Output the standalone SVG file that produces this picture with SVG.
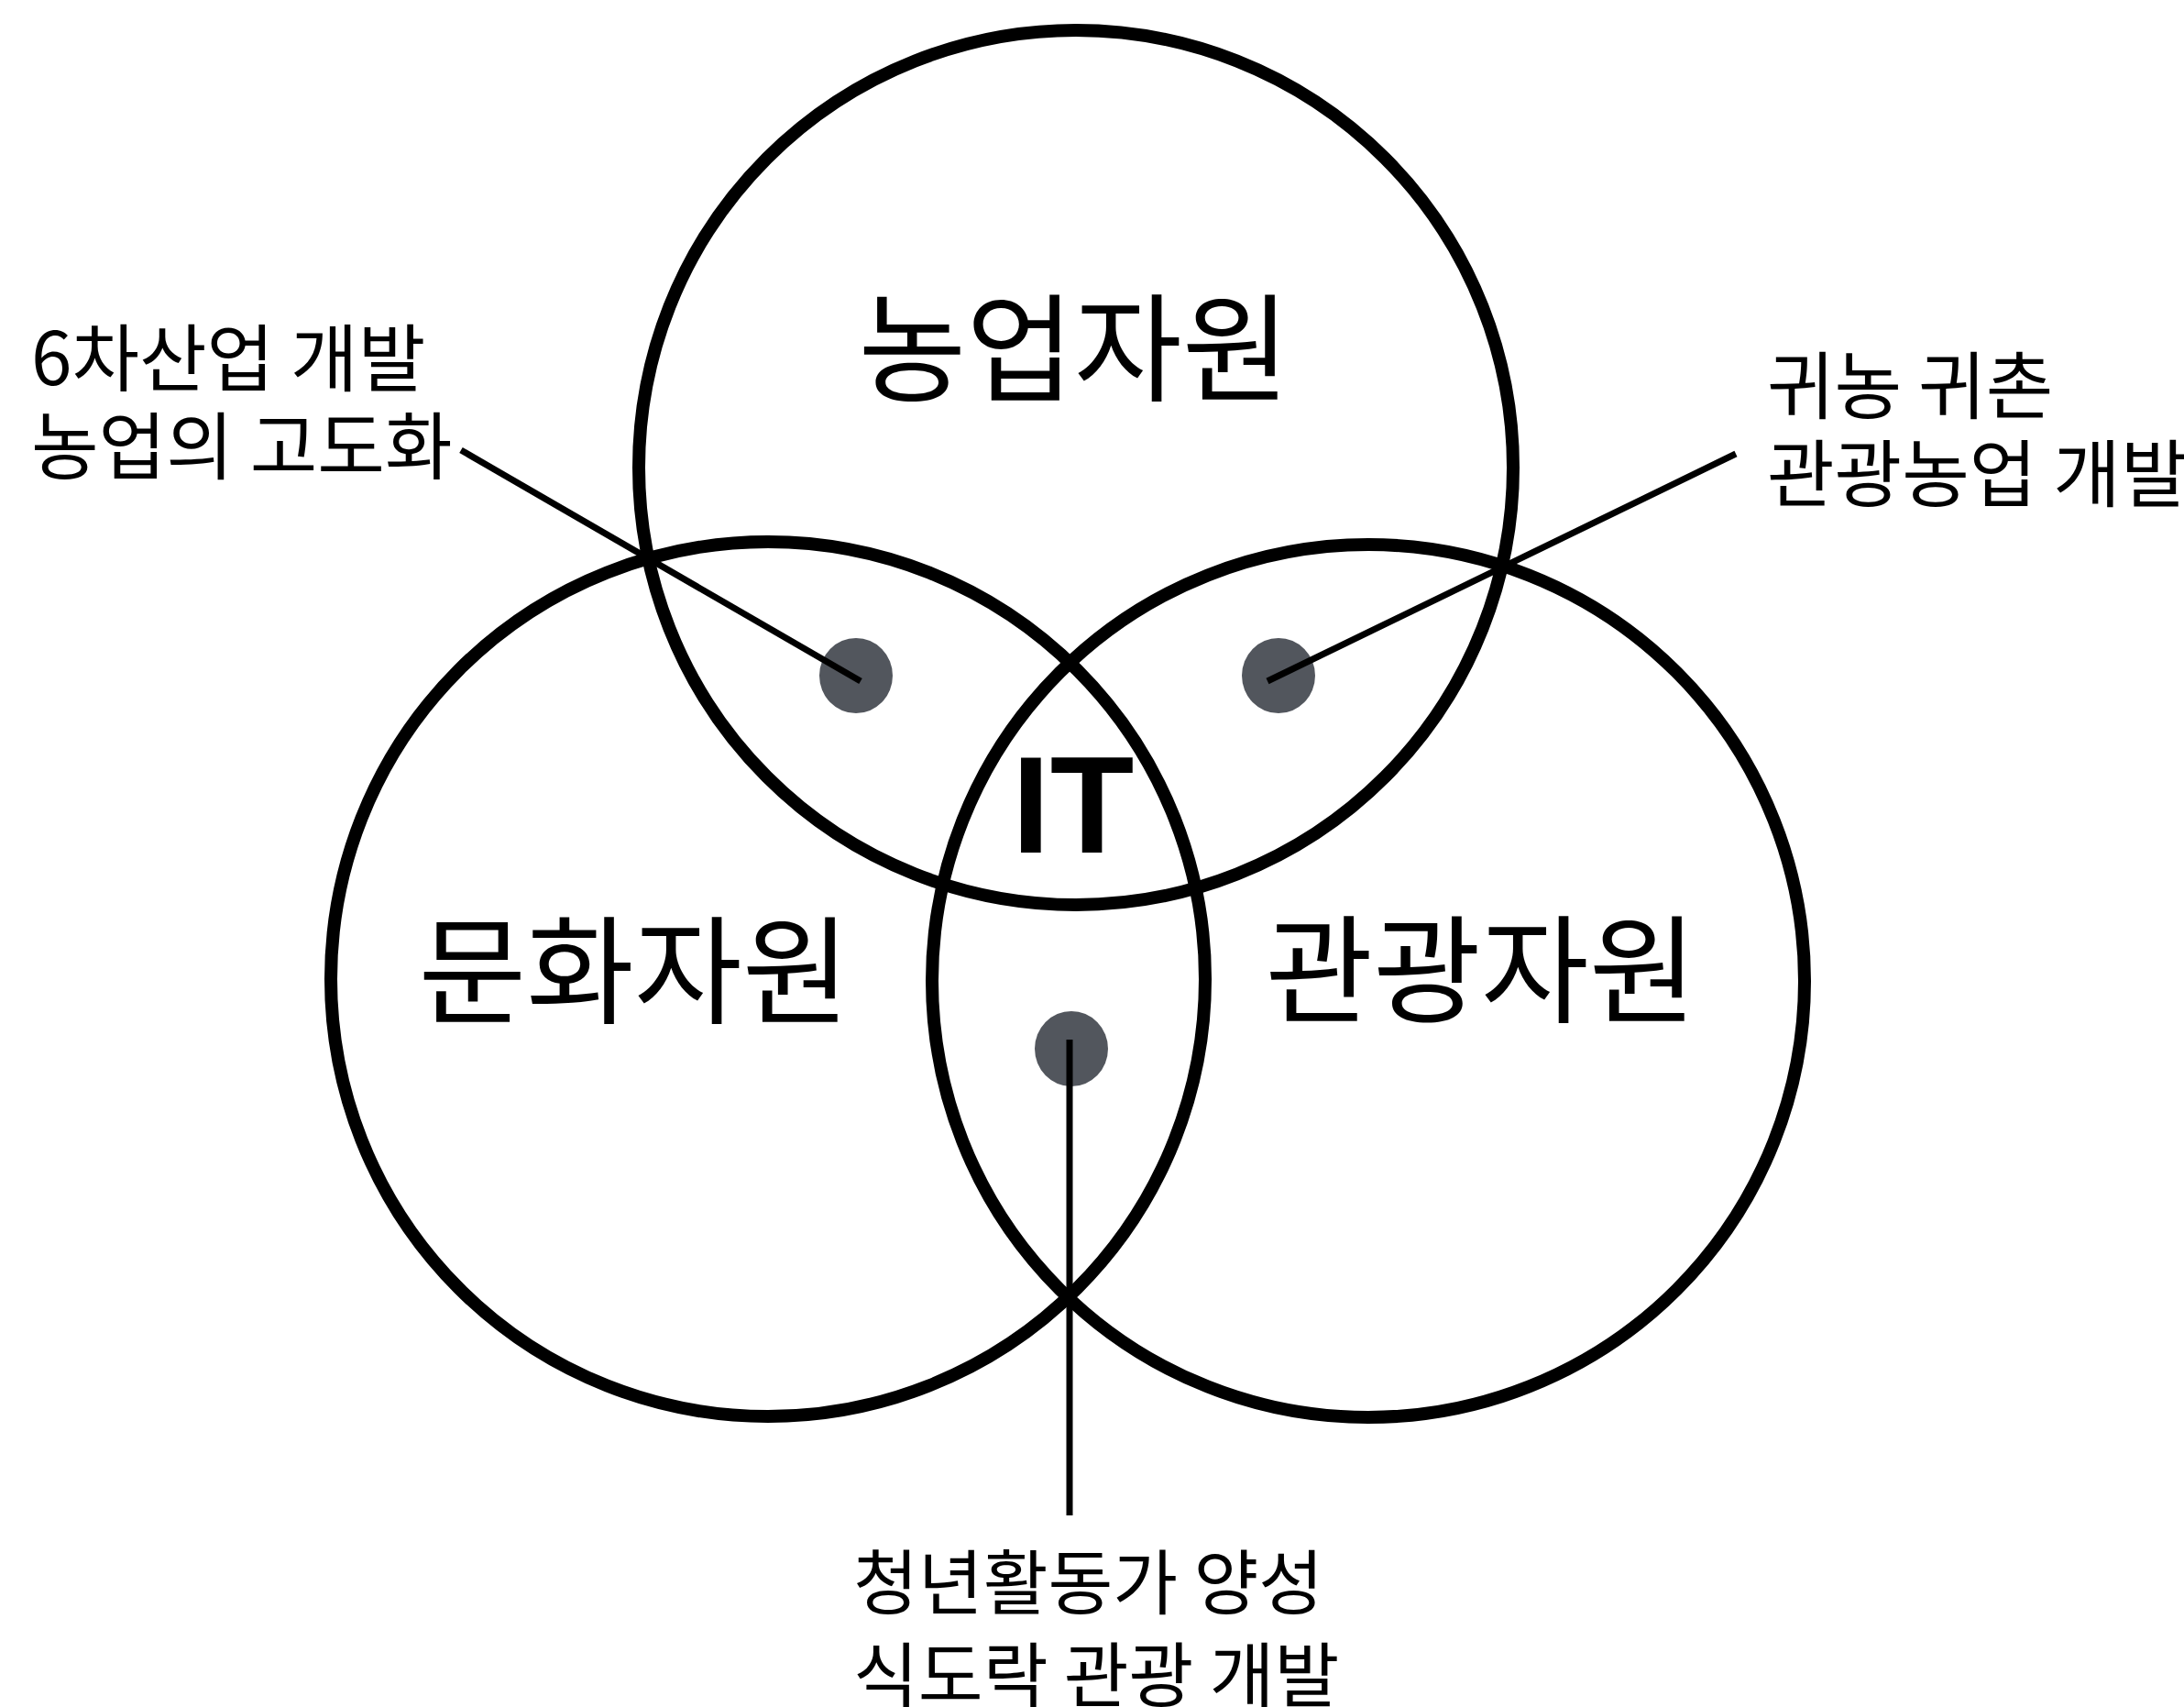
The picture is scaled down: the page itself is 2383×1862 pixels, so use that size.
<svg xmlns="http://www.w3.org/2000/svg" width="2383" height="1862" viewBox="0 0 2383 1862">
<style>
.ring{fill:none;stroke:#000;stroke-width:14}
.dot{fill:#52565d}
.lead{stroke:#000;stroke-width:7;fill:none;stroke-linecap:butt}
.big{font-family:"Noto Sans CJK KR","Noto Sans",sans-serif;font-size:128px;fill:#000}
.small{font-family:"Noto Sans CJK KR","Noto Sans",sans-serif;font-size:80px;fill:#000}
.small-b{font-family:"Noto Sans CJK KR","Noto Sans",sans-serif;font-size:77px;fill:#000}
.it{font-family:"Liberation Sans",Arial,sans-serif;font-weight:700;font-size:150px;fill:#000}
</style>
<rect width="2383" height="1862" fill="#fff"/>
<g id="node-agri">
<circle class="ring" cx="1174" cy="510" r="477"/>
<text class="big" x="1172" y="428" text-anchor="middle">농업자원</text>
</g>
<g id="node-culture">
<circle class="ring" cx="838" cy="1068" r="477"/>
<text class="big" x="692" y="1107" text-anchor="middle">문화자원</text>
</g>
<g id="node-tourism">
<circle class="ring" cx="1493" cy="1070" r="476"/>
<text class="big" x="1616" y="1106" text-anchor="middle">관광자원</text>
</g>
<g id="node-it">
<text class="it" x="1104" y="930">IT</text>
</g>
<g id="node-dot-agri-culture"><ellipse class="dot" cx="934" cy="737" rx="40" ry="41"/></g>
<g id="node-dot-agri-tourism"><ellipse class="dot" cx="1395" cy="737" rx="40" ry="41"/></g>
<g id="node-dot-culture-tourism"><ellipse class="dot" cx="1169" cy="1144" rx="40" ry="41"/></g>
<g id="connectors">
<line class="lead" x1="503" y1="491" x2="939" y2="743"/>
<line class="lead" x1="1894" y1="495" x2="1383" y2="743"/>
<line class="lead" x1="1167" y1="1134" x2="1167" y2="1653"/>
</g>
<g id="label-left">
<text class="small" x="34" y="420">6차산업 개발<tspan x="34" dy="96">농업의 고도화</tspan></text>
</g>
<g id="label-right">
<text class="small" x="1928" y="450">귀농 귀촌<tspan x="1928" dy="96">관광농업 개발</tspan></text>
</g>
<g id="label-bottom">
<text class="small-b" x="931" y="1755">청년활동가 양성<tspan x="931" dy="101">식도락 관광 개발</tspan></text>
</g>
</svg>
